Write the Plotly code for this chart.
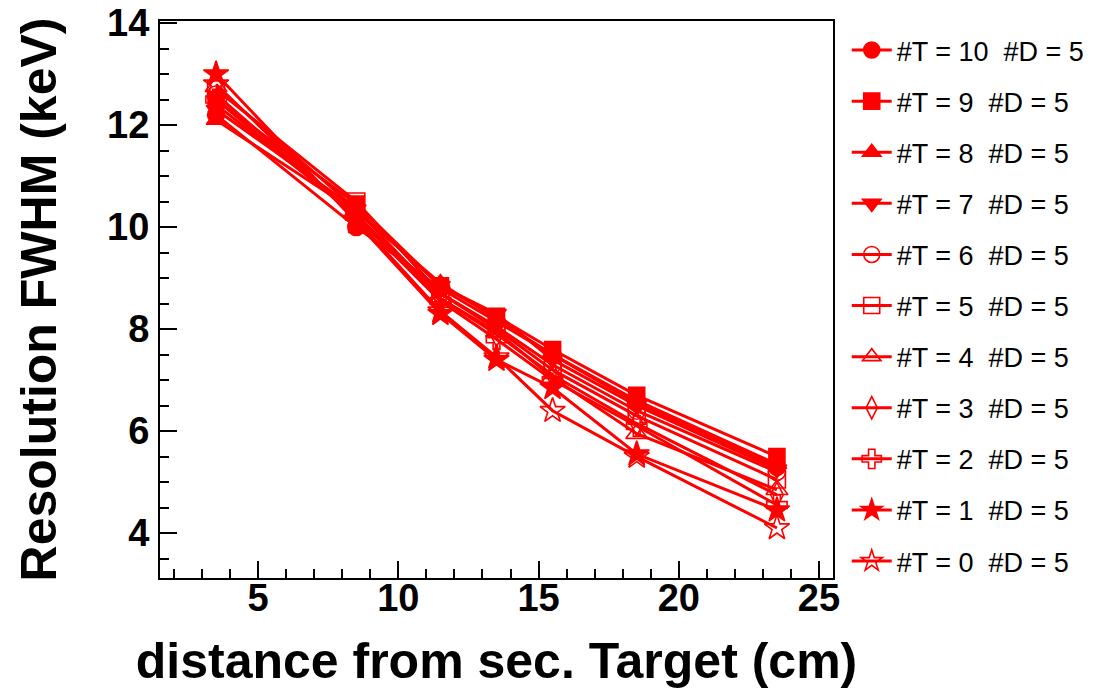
import plotly.graph_objects as go

distance_cm = [3.5, 8.5, 11.5, 13.5, 15.5, 18.5, 23.5]

labels = ["#T = 10  #D = 5", "#T = 9  #D = 5", "#T = 8  #D = 5", "#T = 7  #D = 5",
          "#T = 6  #D = 5", "#T = 5  #D = 5", "#T = 4  #D = 5", "#T = 3  #D = 5",
          "#T = 2  #D = 5", "#T = 1  #D = 5", "#T = 0  #D = 5"]

fwhm_t10 = [12.2, 10.0, 8.8, 8.15, 7.5, 6.55, 5.3]
fwhm_t9 = [12.5, 10.45, 8.85, 8.25, 7.6, 6.7, 5.5]
fwhm_t8 = [12.1, 10.3, 8.9, 8.2, 7.5, 6.6, 5.35]
fwhm_t7 = [12.3, 10.35, 8.85, 8.3, 7.4, 6.5, 5.25]
fwhm_t6 = [12.6, 10.2, 8.7, 8.05, 7.3, 6.4, 5.2]
fwhm_t5 = [12.7, 10.5, 8.7, 8.0, 7.2, 6.3, 5.05]
fwhm_t4 = [12.75, 10.35, 8.6, 7.95, 7.05, 5.95, 4.85]
fwhm_t3 = [12.4, 10.25, 8.6, 7.9, 7.1, 6.15, 4.75]
fwhm_t2 = [12.5, 10.2, 8.55, 7.8, 7.0, 6.1, 4.55]
fwhm_t1 = [13.0, 10.1, 8.3, 7.4, 6.85, 5.55, 4.45]
fwhm_t0 = [12.8, 10.15, 8.35, 7.45, 6.4, 5.5, 4.1]

series = [fwhm_t10, fwhm_t9, fwhm_t8, fwhm_t7, fwhm_t6, fwhm_t5,
          fwhm_t4, fwhm_t3, fwhm_t2, fwhm_t1, fwhm_t0]

symbols = ["circle", "square", "triangle-up", "triangle-down", "circle-open",
           "square-open", "triangle-up-open", "diamond-tall-open", "cross-open",
           "star", "star-open"]
sizes = [17, 16, 17, 17, 17, 17, 19, 18, 17, 19, 19]

RED = "#ff0000"
FONT = "Liberation Sans, Arial, Helvetica, sans-serif"

fig = go.Figure()
for i, (lab, vals) in enumerate(zip(labels, series)):
    fig.add_trace(go.Scatter(
        x=distance_cm, y=vals, name=lab, mode="lines+markers",
        legendgroup=f"g{i}",
        line=dict(color=RED, width=3),
        marker=dict(symbol=symbols[i], size=sizes[i], color=RED,
                    line=dict(color=RED, width=1.6)),
    ))

# the page body adds an 8px offset, so the figure is 8px smaller and shifted
fig.update_layout(
    width=1087, height=683,
    paper_bgcolor="white", plot_bgcolor="white",
    margin=dict(l=152, r=262, t=13, b=113, autoexpand=False),
    font=dict(family=FONT, color="black"),
    showlegend=True,
    legend=dict(
        x=1.0204, xanchor="left", y=0.991, yanchor="top",
        font=dict(family=FONT, size=27, color="black"),
        tracegroupgap=13, bgcolor="rgba(0,0,0,0)", borderwidth=0,
        itemsizing="trace", itemwidth=40, maxheight=683,
    ),
)

fig.update_xaxes(
    range=[1.5, 25.5], showgrid=False, zeroline=False,
    showline=True, mirror=True, linecolor="black", linewidth=2,
    ticks="inside", ticklen=17, tickwidth=1.5, tickcolor="black",
    tickmode="linear", tick0=0, dtick=5,
    minor=dict(ticks="inside", ticklen=9, tickwidth=1.5, tickcolor="black", dtick=1, tick0=0, showgrid=False),
    tickfont=dict(family=FONT, size=38, weight="bold", color="black"),
    ticklabelstandoff=-15, ticklabeloverflow="allow",
    title=dict(text="distance from sec. Target (cm)",
               font=dict(family=FONT, size=50, weight="bold", color="black"),
               standoff=25),
)
fig.update_yaxes(
    range=[3.12, 14.04], showgrid=False, zeroline=False,
    showline=True, mirror=True, linecolor="black", linewidth=2,
    ticks="inside", ticklen=17, tickwidth=1.5, tickcolor="black",
    tickmode="linear", tick0=0, dtick=2,
    minor=dict(ticks="inside", ticklen=9, tickwidth=1.5, tickcolor="black", dtick=0.5, tick0=0, showgrid=False),
    tickfont=dict(family=FONT, size=38, weight="bold", color="black"),
    ticklabelstandoff=1, ticklabeloverflow="allow",
    title=dict(text="Resolution FWHM (keV)",
               font=dict(family=FONT, size=50, weight="bold", color="black"),
               standoff=35),
)

fig.write_html("out.html")
